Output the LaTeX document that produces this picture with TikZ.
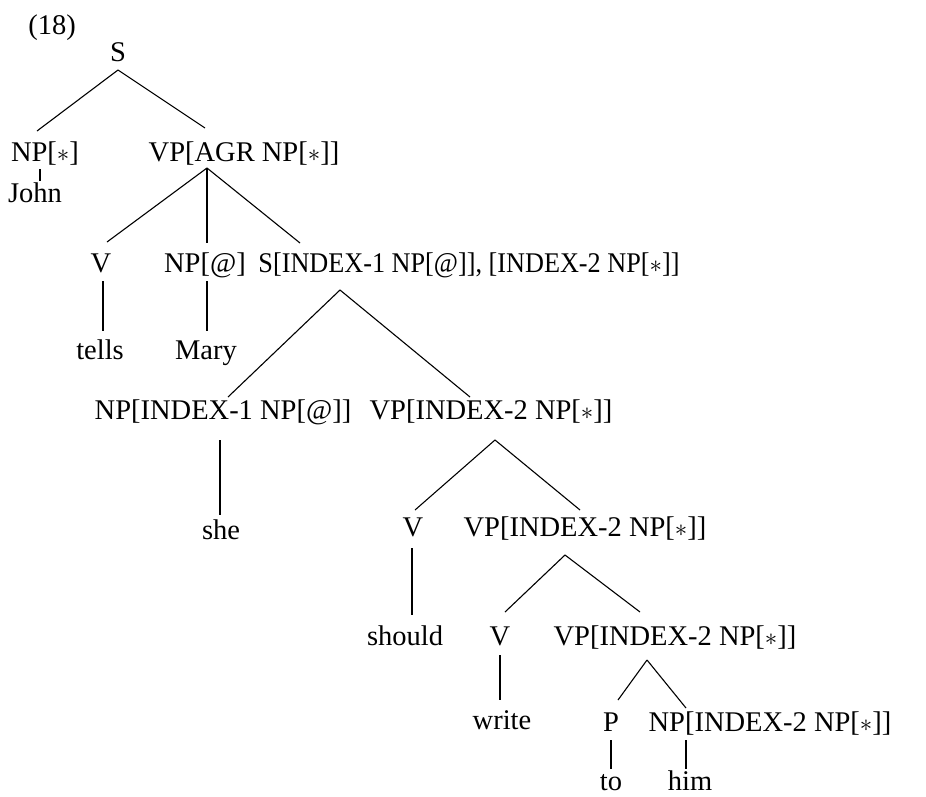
\documentclass[tikz,border=0pt]{standalone}
\usepackage{fontspec}
\setmainfont{Liberation Serif}
\newfontfamily\narrowfont[FakeStretch=0.92]{Liberation Serif}
\usetikzlibrary{positioning}

\begin{document}
\begin{tikzpicture}[x=1pt,y=-1pt,line width=1.1pt,
					every node/.style={inner sep=0pt,anchor=base,font=\fontsize{28.5}{34}\selectfont}]
					\useasboundingbox (0,0) rectangle (926,796);
					
					\node (ex)    at (52,34)   {(18)};
					\node (s)     at (118,61)  {S};
					\node (np1)   at (45,161)  {NP[$*$]};
					\node (vpa)   at (244,161) {VP[AGR NP[$*$]]};
					\node (john)  at (35,202)  {John};
					\node (v1)    at (101,272) {V};
					\node (np2)   at (205,272) {NP[@]};
					\node (s2)    at (469,272) {\narrowfont S[INDEX-1 NP[@]], [INDEX-2 NP[$*$]]};
					\node (tells) at (100,359) {tells};
					\node (mary)  at (206,359) {Mary};
					\node (npi1)  at (223,419) {NP[INDEX-1 NP[@]]};
					\node (vpi2)  at (491,419) {VP[INDEX-2 NP[$*$]]};
					\node (she)   at (221,539) {she};
					\node (v2)    at (413,536) {V};
					\node (vpi2b) at (585,536) {VP[INDEX-2 NP[$*$]]};
					\node (should) at (405,645) {should};
					\node (v3)    at (500,645) {V};
					\node (vpi2c) at (675,645) {VP[INDEX-2 NP[$*$]]};
					\node (write) at (502,729) {write};
					\node (p)     at (611,731) {P};
					\node (npi2)  at (770,731) {NP[INDEX-2 NP[$*$]]};
					\node (to)    at (611,790) {to};
					\node (him)   at (690,790) {him};
					
					% S
					\draw ([yshift=-9pt]s.base) -- ([xshift=-8pt,yshift=30pt]np1.base);
					\draw ([yshift=-9pt]s.base) -- ([xshift=-39pt,yshift=33pt]vpa.base);
					\draw ([xshift=-5pt,yshift=-8pt]np1.base) -- ([xshift=5pt,yshift=21pt]john.base);
					% VP[AGR]
					\draw ([xshift=-37pt,yshift=-7pt]vpa.base) -- ([xshift=6pt,yshift=30pt]v1.base);
					\draw ([xshift=-37pt,yshift=-7pt]vpa.base) -- ([xshift=2pt,yshift=29pt]np2.base);
					\draw ([xshift=-37pt,yshift=-7pt]vpa.base) -- ([xshift=-169pt,yshift=29pt]s2.base);
					\draw ([xshift=2pt,yshift=-9pt]v1.base) -- ([xshift=3pt,yshift=28pt]tells.base);
					\draw ([xshift=2pt,yshift=-9pt]np2.base) -- ([xshift=1pt,yshift=28pt]mary.base);
					% embedded S
					\draw ([xshift=-129pt,yshift=-18pt]s2.base) -- ([xshift=5pt,yshift=22pt]npi1.base);
					\draw ([xshift=-129pt,yshift=-18pt]s2.base) -- ([xshift=-21pt,yshift=22pt]vpi2.base);
					\draw ([xshift=-3pt,yshift=-21pt]npi1.base) -- ([xshift=-1pt,yshift=24pt]she.base);
					\draw ([xshift=4pt,yshift=-21pt]vpi2.base) -- ([xshift=2pt,yshift=26pt]v2.base);
					\draw ([xshift=4pt,yshift=-21pt]vpi2.base) -- ([xshift=-5pt,yshift=26pt]vpi2b.base);
					\draw ([xshift=-1pt,yshift=-12pt]v2.base) -- ([xshift=7pt,yshift=30pt]should.base);
					\draw ([xshift=-20pt,yshift=-19pt]vpi2b.base) -- ([xshift=5pt,yshift=33pt]v3.base);
					\draw ([xshift=-20pt,yshift=-19pt]vpi2b.base) -- ([xshift=-35pt,yshift=33pt]vpi2c.base);
					\draw ([yshift=-10pt]v3.base) -- ([xshift=-2pt,yshift=29pt]write.base);
					\draw ([xshift=-28pt,yshift=-15pt]vpi2c.base) -- ([xshift=7pt,yshift=31pt]p.base);
					\draw ([xshift=-28pt,yshift=-15pt]vpi2c.base) -- ([xshift=-84pt,yshift=23pt]npi2.base);
					\draw ([yshift=-9pt]p.base) -- ([yshift=21pt]to.base);
					\draw ([xshift=-84pt,yshift=-9pt]npi2.base) -- ([xshift=-4pt,yshift=21pt]him.base);
\end{tikzpicture}
\end{document}
